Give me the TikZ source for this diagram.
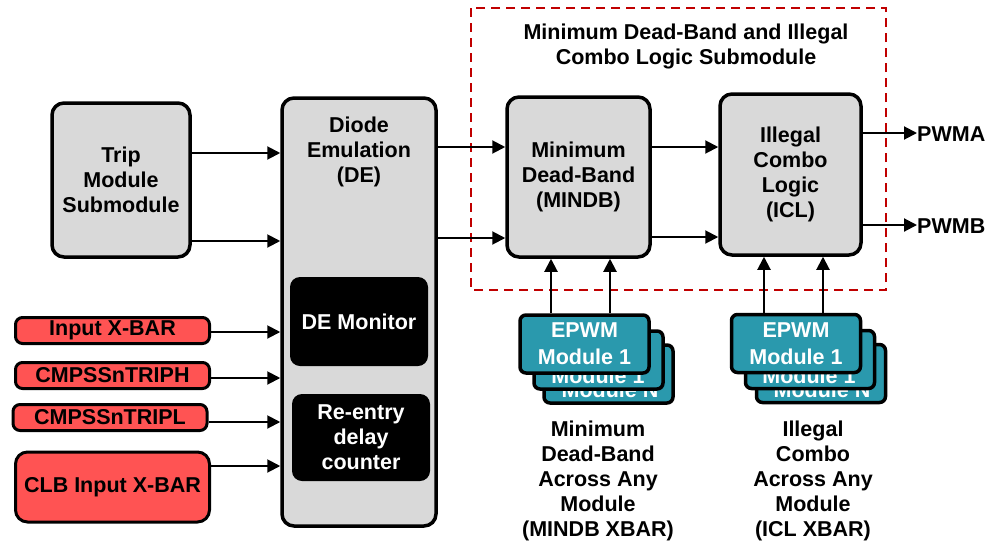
\documentclass[tikz,border=0pt]{standalone}
\usepackage{fontspec}
\setmainfont{Liberation Sans}
\usetikzlibrary{arrows.meta}
\definecolor{boxgray}{HTML}{D9D9D9}
\definecolor{inred}{HTML}{FF5353}
\definecolor{epwmteal}{HTML}{2A99AD}
\definecolor{dashred}{HTML}{C00000}

\begin{document}
\begin{tikzpicture}[x=1pt,y=-1pt,
  every node/.style={font=\bfseries\fontsize{21.5}{25}\selectfont, align=center, inner sep=0pt},
  blk/.style={draw=black, line width=3.5pt, fill=boxgray, rounded corners=12pt},
  darkblk/.style={fill=black, text=white, rounded corners=10pt},
  inbox/.style={draw=black, line width=3pt, fill=inred, rounded corners=7pt},
  epwmbox/.style={draw=black, line width=3.5pt, fill=epwmteal, text=white,
    rounded corners=6pt, minimum width=129pt, minimum height=58pt,
    font=\bfseries\fontsize{21.5}{27}\selectfont},
  backlabel/.style={text=white, font=\bfseries\fontsize{21.5}{27}\selectfont},
  arr/.style={line width=2pt, -{Triangle[length=13pt,width=13pt]}},
  groupline/.style={draw=dashred, line width=2.2pt, dash pattern=on 9pt off 6pt}
]
\useasboundingbox (0,0) rectangle (996,544);

% Trip submodule and diode emulation block
\node[blk, minimum width=138pt, minimum height=154pt] (trip) at (121,180) {Trip\\Module\\Submodule};
\node[blk, minimum width=154pt, minimum height=428pt] (de) at (359,312) {};
\node (detitle) at (359,152) {Diode\\Emulation\\(DE)};
\node[darkblk, minimum width=138pt, minimum height=89pt] (demon) at (359,321.5) {DE Monitor};
\node[darkblk, minimum width=138pt, minimum height=87pt] (reentry) at (361,437.5) {Re-entry\\delay\\counter};

% Input sources
\node[inbox, minimum width=194pt, minimum height=26pt] (ixbar) at (112.5,330.5) {Input X-BAR};
\node[inbox, minimum width=194pt, minimum height=26pt] (triph) at (112.5,375.5) {CMPSSnTRIPH};
\node[inbox, minimum width=194pt, minimum height=26pt] (tripl) at (110,417.5) {CMPSSnTRIPL};
\node[inbox, rounded corners=12pt, minimum width=194pt, minimum height=70pt] (clb) at (112.5,487) {CLB Input X-BAR};

% Minimum dead-band / illegal combo logic group
\draw[groupline] (471,8) rectangle (886,290);
\node (grouptitle) at (686,46.5) {Minimum Dead-Band and Illegal\\Combo Logic Submodule};
\node[blk, minimum width=143pt, minimum height=160pt] (mindb) at (578.5,177) {Minimum\\Dead-Band\\(MINDB)};
\node[blk, minimum width=141pt, minimum height=161pt] (icl) at (790.5,174.5) {Illegal\\Combo\\Logic\\(ICL)};

% Outputs
\node[anchor=west] (pwma) at (917,134) {PWMA};
\node[anchor=west] (pwmb) at (917,226) {PWMB};

% EPWM module stacks (rear cards first, their labels partly covered)
\node[epwmbox] (lstack3) at (608.5,374) {};
\node[backlabel] (lstack3txt) at (610,390) {Module N};
\node[epwmbox] (lstack2) at (598.5,360) {};
\node[backlabel] (lstack2txt) at (598,376) {Module 1};
\node[epwmbox] (lstack1) at (584.5,344) {EPWM\\Module 1};
\node[epwmbox] (rstack3) at (821,373.5) {};
\node[backlabel] (rstack3txt) at (822,389.5) {Module N};
\node[epwmbox] (rstack2) at (810,359.5) {};
\node[backlabel] (rstack2txt) at (809,375.5) {Module 1};
\node[epwmbox] (rstack1) at (796,343.5) {EPWM\\Module 1};

% Crossbar captions
\node (lcap) at (598,480.5) {Minimum\\Dead-Band\\Across Any\\Module\\(MINDB XBAR)};
\node (rcap) at (813,480.5) {Illegal\\Combo\\Across Any\\Module\\(ICL XBAR)};

% Connections
\draw[arr] (trip.east |- 0,153) -- (de.west |- 0,153);
\draw[arr] (trip.east |- 0,241) -- (de.west |- 0,241);
\draw[arr] (ixbar.east |- 0,332) -- (de.west |- 0,332);
\draw[arr] (triph.east |- 0,378) -- (de.west |- 0,378);
\draw[arr] (tripl.east |- 0,422) -- (de.west |- 0,422);
\draw[arr] (clb.east |- 0,466) -- (de.west |- 0,466);

\draw[arr] (de.east |- 0,147) -- (mindb.west |- 0,147);
\draw[arr] (de.east |- 0,238) -- (mindb.west |- 0,238);
\draw[arr] (mindb.east |- 0,147) -- (icl.west |- 0,147);
\draw[arr] (mindb.east |- 0,237) -- (icl.west |- 0,237);

\draw[arr] (icl.east |- 0,133) -- (pwma.west |- 0,133);
\draw[arr] (icl.east |- 0,225) -- (pwmb.west |- 0,225);

\draw[arr] (lstack1.north -| 551,0) -- (mindb.south -| 551,0);
\draw[arr] (lstack1.north -| 610,0) -- (mindb.south -| 610,0);
\draw[arr] (rstack1.north -| 764,0) -- (icl.south -| 764,0);
\draw[arr] (rstack1.north -| 823,0) -- (icl.south -| 823,0);
\end{tikzpicture}
\end{document}
